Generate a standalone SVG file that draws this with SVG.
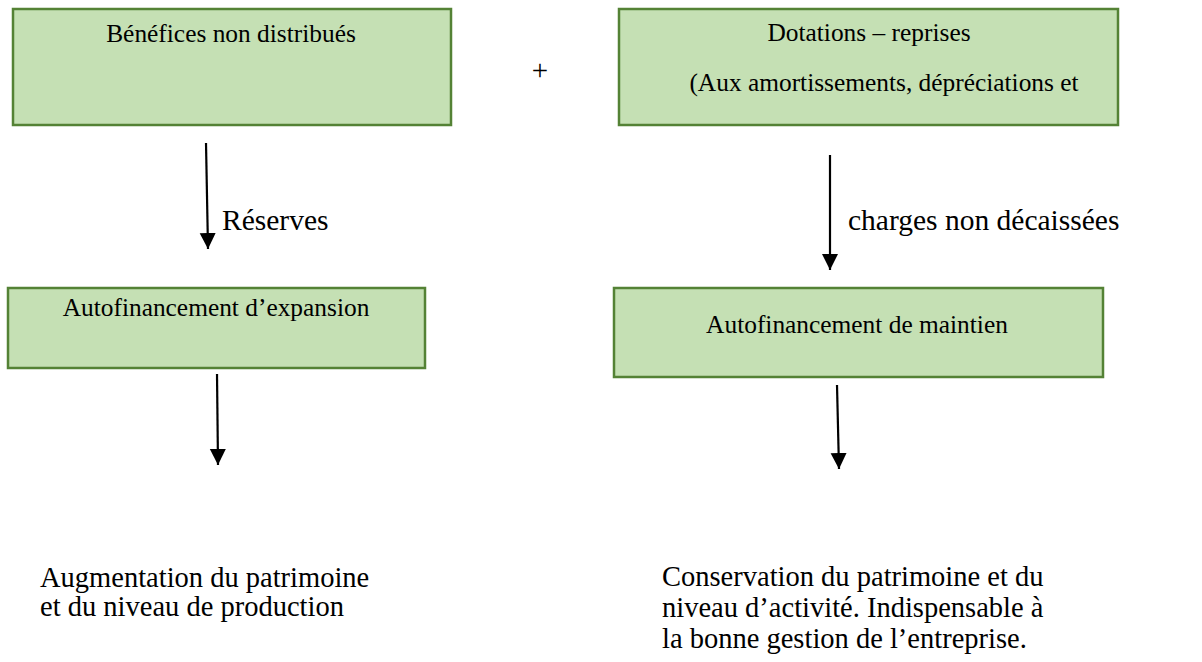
<svg xmlns="http://www.w3.org/2000/svg" width="1202" height="662" viewBox="0 0 1202 662">
  <style>
    .box { fill: #c5e0b4; stroke: #548235; stroke-width: 2.5; }
    .t { font-family: "Liberation Serif", "Times New Roman", serif; fill: #000; }
    .bt { font-size: 25.4px; text-anchor: middle; }
    .lt { font-size: 28.5px; }
    .lbl { font-size: 29.5px; }
    .arrow { stroke: #000; stroke-width: 2.2; fill: none; marker-end: url(#head); }
  </style>
  <defs>
    <marker id="head" markerUnits="userSpaceOnUse" markerWidth="18" markerHeight="18" refX="16" refY="8" orient="auto">
      <path d="M0,0 L16,8 L0,16 Z" fill="#000"/>
    </marker>
  </defs>
  <rect width="1202" height="662" fill="#fff"/>

  <!-- sources -->
  <g id="benefices">
    <rect class="box" x="13" y="9" width="438" height="116"/>
    <text class="t bt" x="231" y="42">Bénéfices non distribués</text>
  </g>
  <text id="plus" class="t" x="540" y="80" font-size="29" text-anchor="middle">+</text>
  <g id="dotations">
    <rect class="box" x="619" y="9" width="499" height="116"/>
    <text class="t bt" x="869" y="41">Dotations – reprises</text>
    <text class="t bt" x="884" y="91">(Aux amortissements, dépréciations et</text>
  </g>

  <!-- intermediate results -->
  <g id="autofinancement-expansion">
    <rect class="box" x="8" y="288" width="417" height="80"/>
    <text class="t bt" x="216" y="316">Autofinancement d’expansion</text>
  </g>
  <g id="autofinancement-maintien">
    <rect class="box" x="614" y="288" width="489" height="89"/>
    <text class="t bt" x="857" y="333">Autofinancement de maintien</text>
  </g>

  <!-- outcomes -->
  <g id="resultat-expansion">
    <text class="t lt" x="40" y="587">Augmentation du patrimoine</text>
    <text class="t lt" x="40" y="616">et du niveau de production</text>
  </g>
  <g id="resultat-maintien">
    <text class="t lt" x="662" y="586">Conservation du patrimoine et du</text>
    <text class="t lt" x="662" y="617">niveau d’activité. Indispensable à</text>
    <text class="t lt" x="662" y="648">la bonne gestion de l’entreprise.</text>
  </g>

  <!-- connectors -->
  <g id="connectors">
    <line class="arrow" x1="206" y1="143" x2="208" y2="249"/>
    <text class="t lbl" x="222" y="230">Réserves</text>
    <line class="arrow" x1="830" y1="155" x2="830" y2="270"/>
    <text class="t lbl" x="848" y="230">charges non décaissées</text>
    <line class="arrow" x1="217" y1="374" x2="218" y2="465"/>
    <line class="arrow" x1="837" y1="385" x2="839" y2="469"/>
  </g>
</svg>
